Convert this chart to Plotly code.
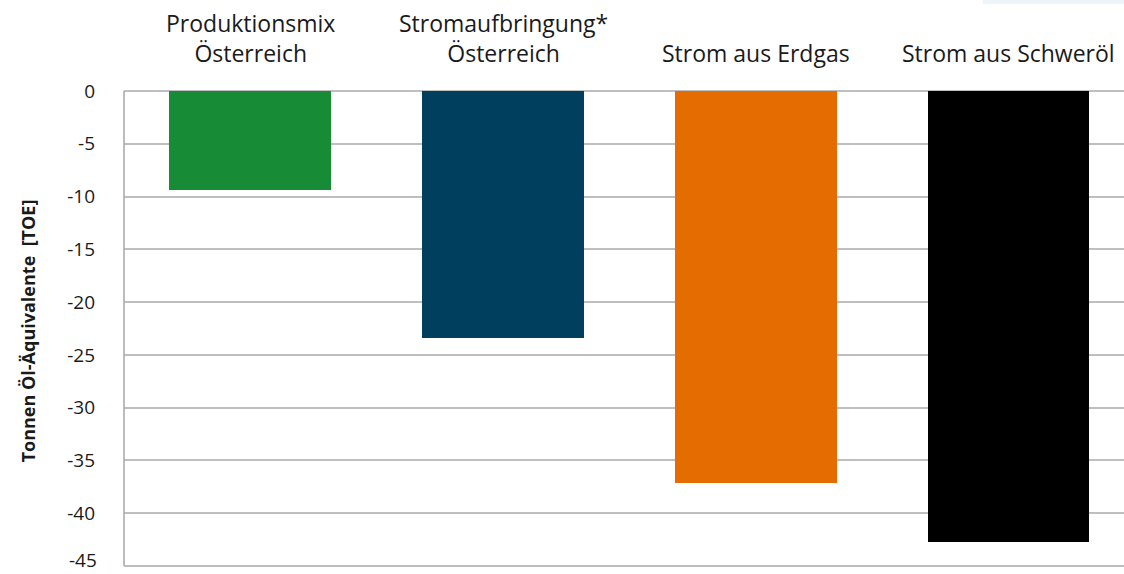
import plotly.graph_objects as go

categories = ["Produktionsmix<br>Österreich", "Stromaufbringung*<br>Österreich", "Strom aus Erdgas", "Strom aus Schweröl"]
values = [-9.4, -23.4, -37.1, -42.7]
colors = ["#178b36", "#003f5e", "#e46c00", "#000000"]
y_ticks = [0, -5, -10, -15, -20, -25, -30, -35, -40, -45]

FONT = "Open Sans, Noto Sans, sans-serif"
TEXT = "#1a1a1a"

xs = list(range(len(categories)))

fig = go.Figure()
fig.add_trace(go.Bar(
    x=xs, y=values, width=0.64,
    marker=dict(color=colors, line=dict(width=0)),
    showlegend=False, hoverinfo="skip",
))

for i, c in enumerate(categories):
    fig.add_annotation(x=i, xref="x", y=1, yref="paper", yanchor="bottom",
                       yshift=20, text=c, showarrow=False,
                       font=dict(family=FONT, size=23, color=TEXT))

fig.add_shape(type="rect", xref="paper", yref="paper", x0=0.859, x1=1.0, y0=1.181, y1=1.2,
              fillcolor="#eef4f7", line=dict(width=0), layer="above")

fig.update_layout(
    width=1124, height=574,
    margin=dict(l=124, r=0, t=91, b=3),
    paper_bgcolor="white", plot_bgcolor="white",
    font=dict(family=FONT, size=19, color=TEXT),
    bargap=0,
)
fig.update_xaxes(range=[-0.5, 3.457], showticklabels=False, showgrid=False,
                 zeroline=False, showline=False)

# bottom tick label would overflow the page, so plotly drops it; draw it as text
tick_text = [str(v) if v != y_ticks[-1] else "" for v in y_ticks]
fig.add_annotation(x=0, xref="paper", y=y_ticks[-1], yref="y", xanchor="right",
                   yanchor="bottom", yshift=-8, xshift=-26, text=str(y_ticks[-1]),
                   showarrow=False, borderpad=0,
                   font=dict(family=FONT, size=19, color=TEXT))

fig.update_yaxes(range=[-45.47, 0], tickvals=y_ticks, ticktext=tick_text,
                 showgrid=True, gridcolor="#bfbfbf", gridwidth=1.5,
                 zeroline=True, zerolinecolor="#bfbfbf", zerolinewidth=1.5,
                 showline=False,
                 ticklabelstandoff=28,
                 title=dict(text="<b>Tonnen Öl-Äquivalente  [TOE]</b>", standoff=26,
                            font=dict(size=18, family=FONT, color=TEXT)))

fig.add_shape(type="line", xref="paper", yref="y", x0=0, x1=0, y0=-45, y1=0,
              line=dict(color="#a6a6a6", width=1.5))

fig.write_html("out.html", config={"displayModeBar": False},
               post_script="document.body.style.margin='0';")
